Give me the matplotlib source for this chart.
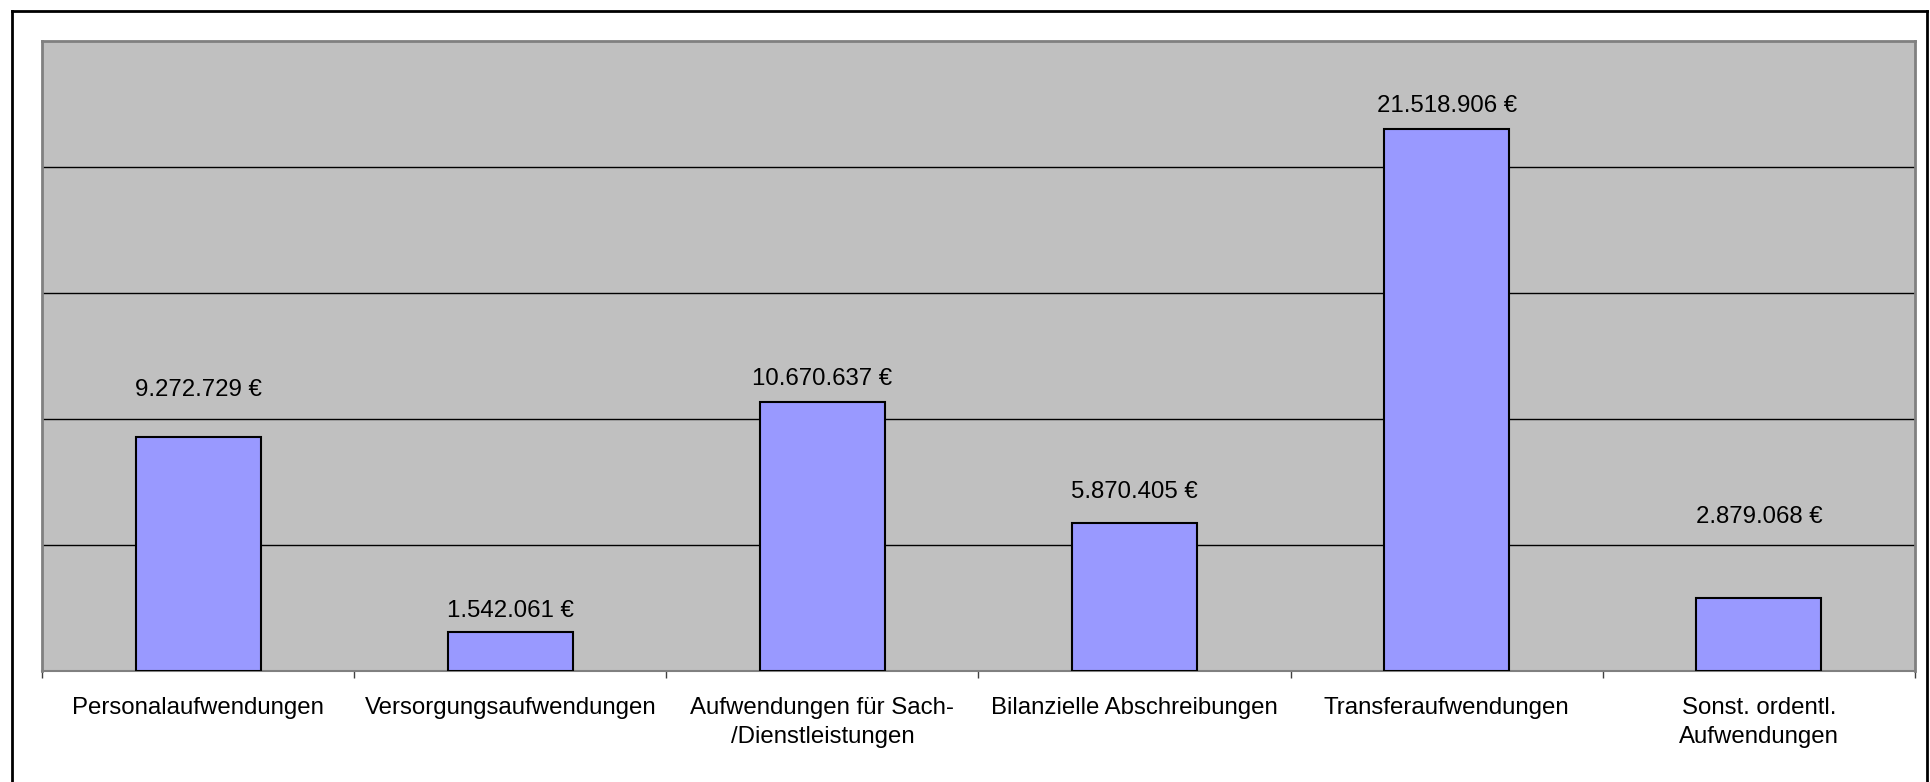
import matplotlib.pyplot as plt
from matplotlib.lines import Line2D

plt.rcParams['font.family'] = ['Liberation Sans', 'DejaVu Sans']

# Aufwendungen nach Arten (Euro)
categories = ['Personalaufwendungen', 'Versorgungsaufwendungen',
              'Aufwendungen für Sach-\n/Dienstleistungen', 'Bilanzielle Abschreibungen',
              'Transferaufwendungen', 'Sonst. ordentl.\nAufwendungen']
values = [9272729, 1542061, 10670637, 5870405, 21518906, 2879068]

# vertical distance of each value label above its bar (points)
label_offset = [34, 15, 16.5, 22.5, 16.5, 59]


def euro(v):
    return f"{v:,}".replace(',', '.') + ' €'


W, H = 1930, 782
fig = plt.figure(figsize=(W / 100, H / 100), dpi=100)
ax = fig.add_axes([42 / W, 1 - 671 / H, (1915 - 42) / W, (671 - 41) / H])

ax.set_facecolor('#C0C0C0')
x = range(len(categories))
ax.bar(x, values, width=0.4, color='#9999FF', edgecolor='black', linewidth=1.5, zorder=3)

ax.set_xlim(-0.5, len(categories) - 0.5)
ax.set_ylim(0, 25_000_000)
ax.set_yticks([5e6, 10e6, 15e6, 20e6])
ax.yaxis.grid(True, color='black', linewidth=1.0, zorder=1)
ax.tick_params(axis='y', length=0, labelleft=False)

# category labels centred, tick marks on the category boundaries
ax.set_xticks(list(x))
ax.set_xticklabels(categories, fontsize=17.3, linespacing=1.45)
ax.tick_params(axis='x', which='major', length=0, pad=18.5)
ax.set_xticks([i - 0.5 for i in range(len(categories) + 1)], minor=True)
ax.tick_params(axis='x', which='minor', length=5, width=1.0, color='#404040', direction='out')

for side in ['top', 'left', 'right']:
    ax.spines[side].set_color('#808080')
    ax.spines[side].set_linewidth(2.0)
ax.spines['bottom'].set_color('#808080')
ax.spines['bottom'].set_linewidth(1.5)

for i, v in enumerate(values):
    ax.annotate(euro(v), xy=(i, v), xytext=(0, label_offset[i]), textcoords='offset points',
                ha='center', va='center', fontsize=17.3, color='black', zorder=4)

# outer frame of the chart
frame = dict(color='black', linewidth=2.0, transform=fig.transFigure)
fig.add_artist(Line2D([11.5 / W, 11.5 / W], [0, 1 - 10.5 / H], **frame))
fig.add_artist(Line2D([11.5 / W, 1927 / W], [1 - 10.5 / H, 1 - 10.5 / H], **frame))
fig.add_artist(Line2D([1927 / W, 1927 / W], [0, 1 - 10.5 / H], **frame))

fig.savefig('out.png', dpi=100)
